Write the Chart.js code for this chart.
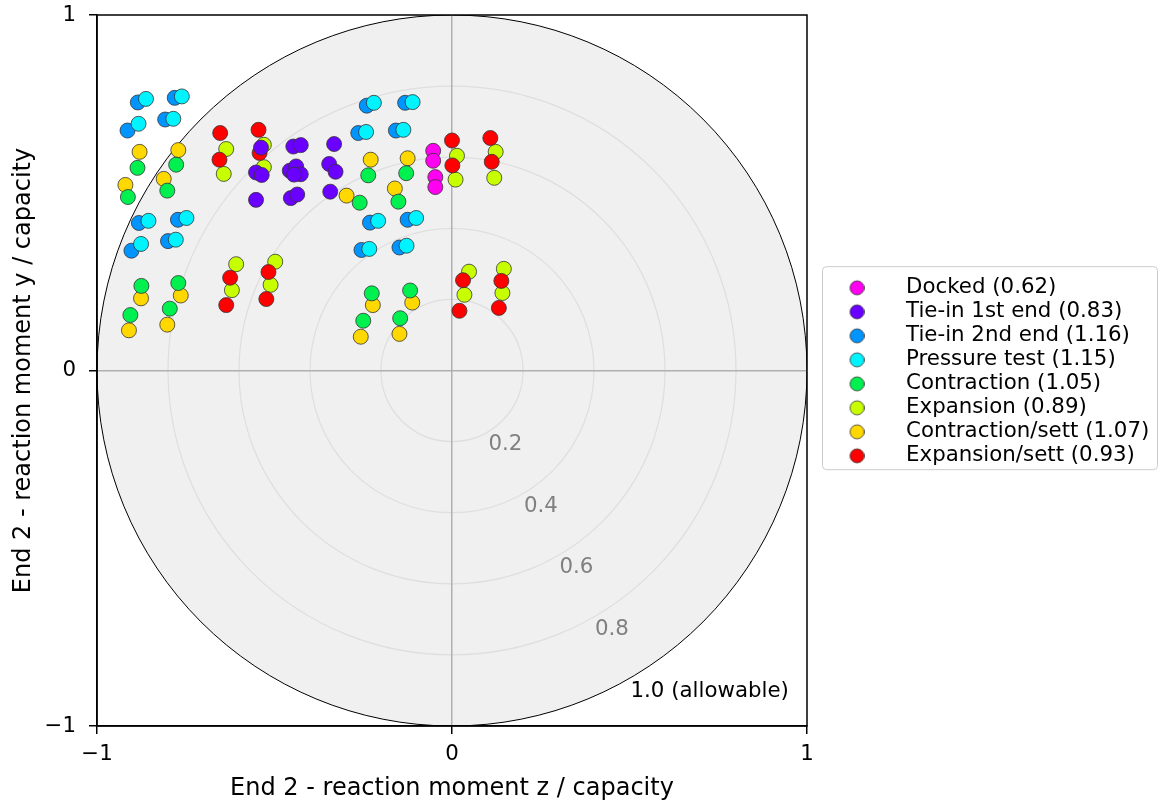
<!DOCTYPE html>
<html>
<head>
<meta charset="utf-8">
<script src="https://cdn.jsdelivr.net/npm/chart.js@4.4.0/dist/chart.umd.min.js"></script>
<style>
    html, body { margin: 0; padding: 0; background: #fff; }
</style>
</head>
<body>
<canvas id="momentChart" width="1159" height="802"></canvas>
<script>
// moment ratios: [z / capacity, y / capacity]
const docked = [[-0.053, 0.618], [-0.053, 0.590], [-0.047, 0.544], [-0.047, 0.516]];
const tieIn1st = [
    [-0.538, 0.627], [-0.552, 0.557], [-0.536, 0.550], [-0.552, 0.480],
    [-0.447, 0.630], [-0.426, 0.634], [-0.457, 0.562], [-0.439, 0.574],
    [-0.426, 0.552], [-0.445, 0.551], [-0.454, 0.485], [-0.436, 0.495],
    [-0.332, 0.637], [-0.346, 0.581], [-0.328, 0.559], [-0.343, 0.503]
];
const tieIn2nd = [
    [-0.885, 0.754], [-0.781, 0.767], [-0.914, 0.675], [-0.808, 0.706],
    [-0.882, 0.415], [-0.772, 0.424], [-0.903, 0.337], [-0.800, 0.364],
    [-0.240, 0.745], [-0.132, 0.753], [-0.264, 0.668], [-0.158, 0.675],
    [-0.231, 0.416], [-0.125, 0.424], [-0.255, 0.339], [-0.148, 0.346]
];
const pressureTest = [
    [-0.862, 0.764], [-0.761, 0.771], [-0.883, 0.694], [-0.785, 0.708],
    [-0.855, 0.421], [-0.748, 0.429], [-0.876, 0.356], [-0.778, 0.368],
    [-0.220, 0.753], [-0.111, 0.755], [-0.242, 0.671], [-0.137, 0.677],
    [-0.208, 0.421], [-0.101, 0.429], [-0.233, 0.342], [-0.128, 0.351]
];
const contraction = [
    [-0.886, 0.570], [-0.777, 0.579], [-0.913, 0.488], [-0.802, 0.506],
    [-0.875, 0.238], [-0.771, 0.246], [-0.906, 0.156], [-0.795, 0.174],
    [-0.236, 0.549], [-0.129, 0.555], [-0.260, 0.472], [-0.151, 0.475],
    [-0.226, 0.217], [-0.118, 0.225], [-0.250, 0.140], [-0.146, 0.147]
];
const expansion = [
    [-0.636, 0.623], [-0.643, 0.553], [-0.530, 0.635], [-0.530, 0.572],
    [-0.608, 0.299], [-0.620, 0.226], [-0.498, 0.306], [-0.511, 0.241],
    [0.014, 0.604], [0.010, 0.537], [0.123, 0.615], [0.119, 0.542],
    [0.048, 0.278], [0.035, 0.213], [0.146, 0.286], [0.142, 0.218]
];
const contractionSett = [
    [-0.880, 0.615], [-0.771, 0.620], [-0.920, 0.522], [-0.812, 0.539],
    [-0.876, 0.203], [-0.764, 0.211], [-0.910, 0.113], [-0.802, 0.129],
    [-0.229, 0.593], [-0.125, 0.597], [-0.297, 0.492], [-0.161, 0.512],
    [-0.223, 0.184], [-0.112, 0.191], [-0.257, 0.095], [-0.148, 0.103]
];
const expansionSett = [
    [-0.653, 0.668], [-0.655, 0.593], [-0.545, 0.677], [-0.542, 0.612],
    [-0.625, 0.261], [-0.636, 0.184], [-0.517, 0.277], [-0.523, 0.201],
    [0.000, 0.647], [0.001, 0.577], [0.108, 0.654], [0.112, 0.587],
    [0.031, 0.254], [0.021, 0.168], [0.139, 0.252], [0.132, 0.176]
];

const seriesLabels = [
    'Docked (0.62)', 'Tie-in 1st end (0.83)', 'Tie-in 2nd end (1.16)', 'Pressure test (1.15)',
    'Contraction (1.05)', 'Expansion (0.89)', 'Contraction/sett (1.07)', 'Expansion/sett (0.93)'
];
const seriesPoints = [docked, tieIn1st, tieIn2nd, pressureTest, contraction, expansion, contractionSett, expansionSett];
const seriesColors = ['#ff00f0', '#6a00ff', '#0094ff', '#00f4ff', '#00f050', '#c8ff00', '#ffd800', '#ff0000'];
const drawOrder = [7, 0, 4, 3, 5, 2, 6, 1];   // lower = drawn on top

const ringValues = [0.2, 0.4, 0.6, 0.8];
const ringLabels = ['0.2', '0.4', '0.6', '0.8'];
const allowableLabel = '1.0 (allowable)';

const FONT = 'DejaVu Sans';
const TEXT_SIZE = 21.33;
const TITLE_SIZE = 24;
Chart.defaults.font.family = FONT;
Chart.defaults.font.size = TEXT_SIZE;
Chart.defaults.color = '#000';

function legendMarker(color) {
    const c = document.createElement('canvas');
    c.width = 24;
    c.height = 18;
    const g = c.getContext('2d');
    g.beginPath();
    g.arc(16.5, 9, 7, 0, Math.PI * 2);
    g.fillStyle = color;
    g.fill();
    g.lineWidth = 0.8;
    g.strokeStyle = '#333';
    g.stroke();
    return c;
}
const markers = seriesColors.map(legendMarker);

// work out the legend width so the plot ends at the same place as the reference
const measure = document.createElement('canvas').getContext('2d');
measure.font = TEXT_SIZE + 'px "' + FONT + '"';
const textW = Math.max(...seriesLabels.map(t => measure.measureText(t).width));
const legendPad = 2.67, legendBox = 85.7;
const legendW = legendPad + legendBox + TEXT_SIZE / 2 + textW + 10;
const plotRight = 807;

const fmt = v => (v < 0 ? '\u2212' + Math.abs(v) : String(v));

const polarBackground = {
    id: 'polarBackground',
    beforeDraw(chart) {
        const { ctx, chartArea: a, scales: { x, y } } = chart;
        const cx = x.getPixelForValue(0), cy = y.getPixelForValue(0);
        const rx = x.getPixelForValue(1) - cx, ry = cy - y.getPixelForValue(1);
        ctx.save();
        ctx.beginPath();
        ctx.rect(a.left, a.top, a.width, a.height);
        ctx.clip();
        ctx.fillStyle = '#f0f0f0';
        ctx.beginPath();
        ctx.ellipse(cx, cy, rx, ry, 0, 0, Math.PI * 2);
        ctx.fill();
        ctx.strokeStyle = '#dedede';
        ctx.lineWidth = 1.2;
        ringValues.forEach(v => {
            ctx.beginPath();
            ctx.ellipse(cx, cy, rx * v, ry * v, 0, 0, Math.PI * 2);
            ctx.stroke();
        });
        ctx.strokeStyle = '#000';
        ctx.lineWidth = 1;
        ctx.beginPath();
        ctx.ellipse(cx, cy, rx, ry, 0, 0, Math.PI * 2);
        ctx.stroke();

        ctx.font = TEXT_SIZE + 'px "' + FONT + '"';
        ctx.textAlign = 'left';
        ctx.textBaseline = 'top';
        const ang = -Math.PI / 3;
        ringValues.forEach((v, i) => {
            ctx.fillStyle = '#808080';
            ctx.fillText(ringLabels[i], x.getPixelForValue(v * Math.cos(ang)) + 1, y.getPixelForValue(v * Math.sin(ang)) + 2);
        });
        ctx.fillStyle = '#000';
        ctx.fillText(allowableLabel, x.getPixelForValue(Math.cos(ang)) + 1, y.getPixelForValue(Math.sin(ang)) + 2);
        ctx.restore();
    },
    afterDraw(chart) {
        const { ctx, chartArea: a, legend } = chart;
        ctx.save();
        ctx.strokeStyle = '#000';
        ctx.lineWidth = 1.5;
        ctx.strokeRect(a.left, a.top, a.width, a.height);
        // legend frame
        const hb = legend.legendHitBoxes;
        if (hb && hb.length) {
            const top = hb[0].top - 11;
            const bottom = hb[hb.length - 1].top + 24;
            ctx.strokeStyle = '#cccccc';
            ctx.lineWidth = 1;
            ctx.beginPath();
            ctx.roundRect(a.right + 15.5, top + 0.5, chart.width - a.right - 17, bottom - top, 4);
            ctx.stroke();
        }
        ctx.restore();
    }
};

const axisBase = {
    type: 'linear',
    min: -1,
    max: 1,
    border: { display: true, color: '#000', width: 1.5 },
    grid: {
        drawOnChartArea: true,
        color: c => (c.tick && c.tick.value === 0 ? '#b0b0b0' : 'rgba(0,0,0,0)'),
        lineWidth: 1.5,
        tickColor: '#000',
        tickWidth: 1.5,
        tickLength: 8
    }
};

new Chart(document.getElementById('momentChart').getContext('2d'), {
    type: 'scatter',
    data: {
        datasets: seriesLabels.map((label, i) => ({
            label: label,
            data: seriesPoints[i].map(p => ({ x: p[0], y: p[1] })),
            backgroundColor: seriesColors[i],
            borderColor: '#333',
            borderWidth: 0.8,
            pointRadius: 7.5,
            pointHoverRadius: 7.5,
            order: drawOrder[i]
        }))
    },
    options: {
        responsive: false,
        animation: false,
        events: [],
        layout: { padding: { left: 0, top: 15, bottom: 0, right: 1159 - plotRight - legendW } },
        plugins: {
            tooltip: { enabled: false },
            legend: {
                position: 'right',
                align: 'start',
                maxWidth: 600,
                // empty title only pushes the entries down to where the reference has them
                title: { display: true, text: ' ', font: { size: 10, lineHeight: 1 }, padding: { top: 249.5, bottom: 0 } },
                labels: {
                    usePointStyle: true,
                    pointStyleWidth: legendBox,
                    padding: legendPad,
                    font: { size: TEXT_SIZE },
                    generateLabels: () => seriesLabels.map((t, i) => ({
                        text: t,
                        pointStyle: markers[i],
                        fillStyle: seriesColors[i],
                        strokeStyle: '#333',
                        lineWidth: 0,
                        hidden: false,
                        datasetIndex: i,
                        fontColor: '#000'
                    }))
                }
            }
        },
        scales: {
            x: Object.assign({}, axisBase, {
                position: 'bottom',
                afterFit: s => { s.height = 76; },
                ticks: { stepSize: 1, padding: 8, callback: fmt, maxRotation: 0 },
                title: { display: true, text: 'End 2 - reaction moment z / capacity', font: { size: TITLE_SIZE }, padding: { top: 0, bottom: -1 } }
            }),
            y: Object.assign({}, axisBase, {
                position: 'left',
                afterFit: s => { s.width = 97; },
                // tiny line height keeps the label padding from pushing the plot top down
                ticks: { stepSize: 1, padding: 13, callback: fmt, font: { size: TEXT_SIZE, lineHeight: 0.1 } },
                title: { display: true, text: 'End 2 - reaction moment y / capacity', font: { size: TITLE_SIZE }, padding: { top: 9.5, bottom: 0 } }
            })
        }
    },
    plugins: [polarBackground]
});
</script>
</body>
</html>
